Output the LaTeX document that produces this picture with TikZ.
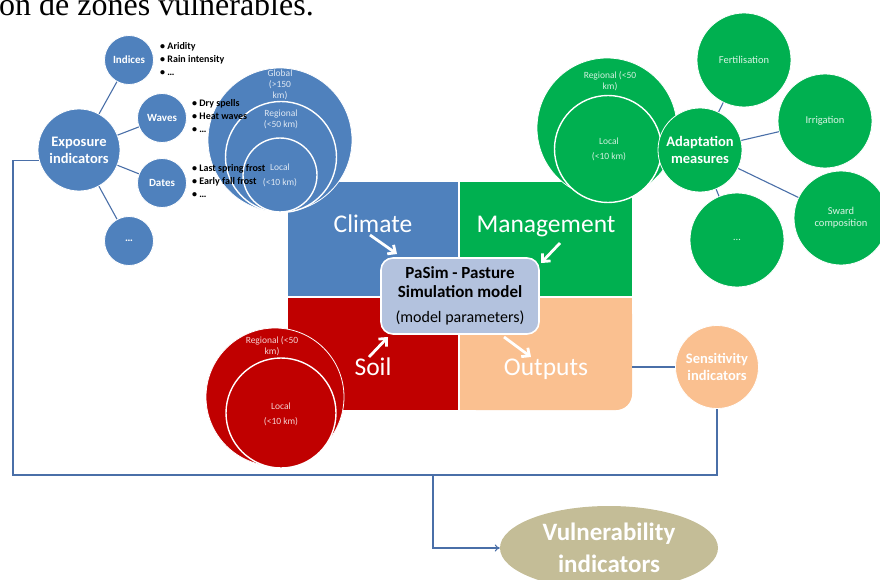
\documentclass[tikz,border=0pt]{standalone}
\usepackage{fontspec}
\setmainfont{Carlito}
\newfontfamily\titlefont{Liberation Serif}
\usetikzlibrary{arrows.meta,shapes.geometric}
\definecolor{cblue}{HTML}{4F81BD}
\definecolor{cgreen}{HTML}{00B050}
\definecolor{cred}{HTML}{C00000}
\definecolor{cpeach}{HTML}{FAC090}
\definecolor{cbox}{HTML}{B3C2DE}
\definecolor{cline}{HTML}{4A6FA8}
\definecolor{ctan}{HTML}{C4BD97}
\begin{document}
\begin{tikzpicture}[x=1pt,y=-1pt,
  bub/.style={circle,inner sep=0pt,draw=white,line width=0.8pt,align=center,text=white},
  ring/.style={circle,inner sep=0pt,draw=white,line width=1.4pt},
  lbl/.style={inner sep=0pt,align=center,text=white,text opacity=0.82,font=\fontsize{9.5}{11}\selectfont},
  glbl/.style={inner sep=0pt,align=center,text=white,text opacity=0.85,font=\fontsize{10.5}{12}\selectfont},
  sbub/.style={bub,fill=cblue,minimum size=49,font=\fontsize{11}{12}\selectfont\bfseries},
  gbub/.style={bub,fill=cgreen,minimum size=94},
  conn/.style={draw=cline,line width=1.1pt},
  warrow/.style={draw=white,line width=2.8pt,-{Straight Barb[length=6pt,width=11pt]}},
  qlabel/.style={inner sep=0pt,anchor=base,text=white,font=\fontsize{25.5}{30}\selectfont},
  blist/.style={inner sep=0pt,anchor=north west,align=left,font=\fontsize{10}{13}\selectfont\bfseries},
  bigtxt/.style={font=\fontsize{14.5}{17}\selectfont\bfseries},
]
\useasboundingbox (0,0) rectangle (880,580);
\clip (0,0) rectangle (880,580);

% title fragment
\node[anchor=base west,inner sep=0pt,font=\titlefont\fontsize{32}{32}\selectfont] (title) at (-1,16) {on de zones vulnérables.};

% quadrants
\fill[cblue] (288,182) rectangle (458,296);
\fill[cgreen] (460,182) rectangle (632,296);
\fill[cred] (288,298) rectangle (458,410);
\fill[cpeach,rounded corners=16pt] (460,298) rectangle (632,410);
\fill[cpeach] (460,298) rectangle (610,410);
\fill[cpeach] (460,298) rectangle (632,390);
\coordinate (outE) at (632,367);

% feedback lines
\node[bub,fill=cblue,minimum size=82,bigtxt] (expo) at (79,150) {Exposure\\indicators};
\node[bub,fill=cpeach,minimum size=83,bigtxt] (sens) at (717,367) {Sensitivity\\indicators};
\node[ellipse,inner sep=0pt,fill=ctan,minimum width=218,minimum height=84,text=white,align=center,font=\fontsize{25}{32}\selectfont\bfseries] (vul) at (609,548) {Vulnerability\\indicators};
\coordinate (split) at (433,475);
\draw[conn] (expo.195) -| (13,475) -| (sens.south);
\draw[conn,-{To[length=5pt,width=7pt]}] (split) |- (vul.west);
\draw[conn] (outE) -- (sens.west);

% exposure tree
\node[sbub] (ind) at (129,60) {Indices};
\node[sbub] (wav) at (162,118) {Waves};
\node[sbub] (dat) at (162,183) {Dates};
\node[sbub] (edots) at (129,241) {…};
\draw[conn] (expo) -- (ind);
\draw[conn] (expo) -- (wav);
\draw[conn] (expo) -- (dat);
\draw[conn] (expo) -- (edots);

% blue scale circles
\node[bub,fill=cblue,minimum size=144] (glob) at (280,140) {};
\node[ring,fill=cblue,minimum size=111] (breg) at (281,157) {};
\node[ring,fill=cblue,minimum size=74] (bloc) at (280,175) {};
\node[lbl] (globT) at (280,85) {Global\\(>150\\km)};
\node[lbl] (bregT) at (281,119) {Regional\\(<50 km)};
\node[lbl,font=\fontsize{9.5}{15}\selectfont] (blocT) at (280,175.5) {Local\\(<10 km)};

% bullet lists
\node[blist] (indL) at (160,42.5) {\textbullet\ Aridity\\\textbullet\ Rain intensity\\\textbullet\ …};
\node[blist] (wavL) at (192,99.5) {\textbullet\ Dry spells\\\textbullet\ Heat waves\\\textbullet\ …};
\node[blist] (datL) at (192,164.5) {\textbullet\ Last spring frost\\\textbullet\ Early fall frost\\\textbullet\ …};

% green circles
\node[bub,fill=cgreen,minimum size=140] (greg) at (607,128) {};
\node[ring,fill=cgreen,minimum size=107] (gloc) at (608,149) {};
\node[lbl] (gregT) at (610,81.5) {Regional (<50\\km)};
\node[lbl,font=\fontsize{9.5}{15}\selectfont] (glocT) at (609,149.5) {Local\\(<10 km)};
\node[bub,fill=cgreen,minimum size=84,bigtxt] (adapt) at (700,150) {Adaptation\\measures};
\node[gbub] (fert) at (744,60) {};
\node[gbub] (irr) at (825,121) {};
\node[gbub] (sward) at (841,218) {};
\node[gbub] (gdots) at (737,240) {};
\node[glbl] (fertT) at (fert) {Fertilisation};
\node[glbl] (irrT) at (irr) {Irrigation};
\node[glbl] (swardT) at (841,218) {Sward\\composition};
\node[glbl] (gdotsT) at (gdots) {…};
\draw[conn] (adapt) -- (fert);
\draw[conn] (adapt) -- (irr);
\draw[conn] (adapt) -- (sward);
\draw[conn] (adapt) -- (gdots);

% red circles
\node[bub,fill=cred,minimum size=138] (rreg) at (275,397) {};
\node[ring,fill=cred,minimum size=110] (rloc) at (281,413) {};
\node[lbl] (rregT) at (272,346.5) {Regional (<50\\km)};
\node[lbl,font=\fontsize{9.5}{15}\selectfont] (rlocT) at (281,414.5) {Local\\(<10 km)};

% central model box
\node[draw=white,line width=1.6pt,fill=cbox,rounded corners=12pt,minimum width=158,minimum height=76,align=center,inner sep=0pt,font=\fontsize{17}{19}\selectfont] (pasim) at (460,296)
  {\bfseries PaSim - Pasture\\\bfseries Simulation model\\[6pt]\mdseries\fontsize{16}{19}\selectfont (model parameters)};

% quadrant labels
\node[qlabel] (climT) at (373,232) {Climate};
\node[qlabel] (mgmtT) at (546,232) {Management};
\node[qlabel] (soilT) at (373,375) {Soil};
\node[qlabel] (outT) at (546,375) {Outputs};

% white arrows
\coordinate (a1) at (370,235); \coordinate (a1e) at (397,254);
\coordinate (a2) at (560,243); \coordinate (a2e) at (541,263);
\coordinate (a3) at (369,357); \coordinate (a3e) at (388,337);
\coordinate (a4) at (504,337); \coordinate (a4e) at (531,357);
\draw[warrow] (a1) -- (a1e);
\draw[warrow] (a2) -- (a2e);
\draw[warrow] (a3) -- (a3e);
\draw[warrow] (a4) -- (a4e);
\end{tikzpicture}
\end{document}
